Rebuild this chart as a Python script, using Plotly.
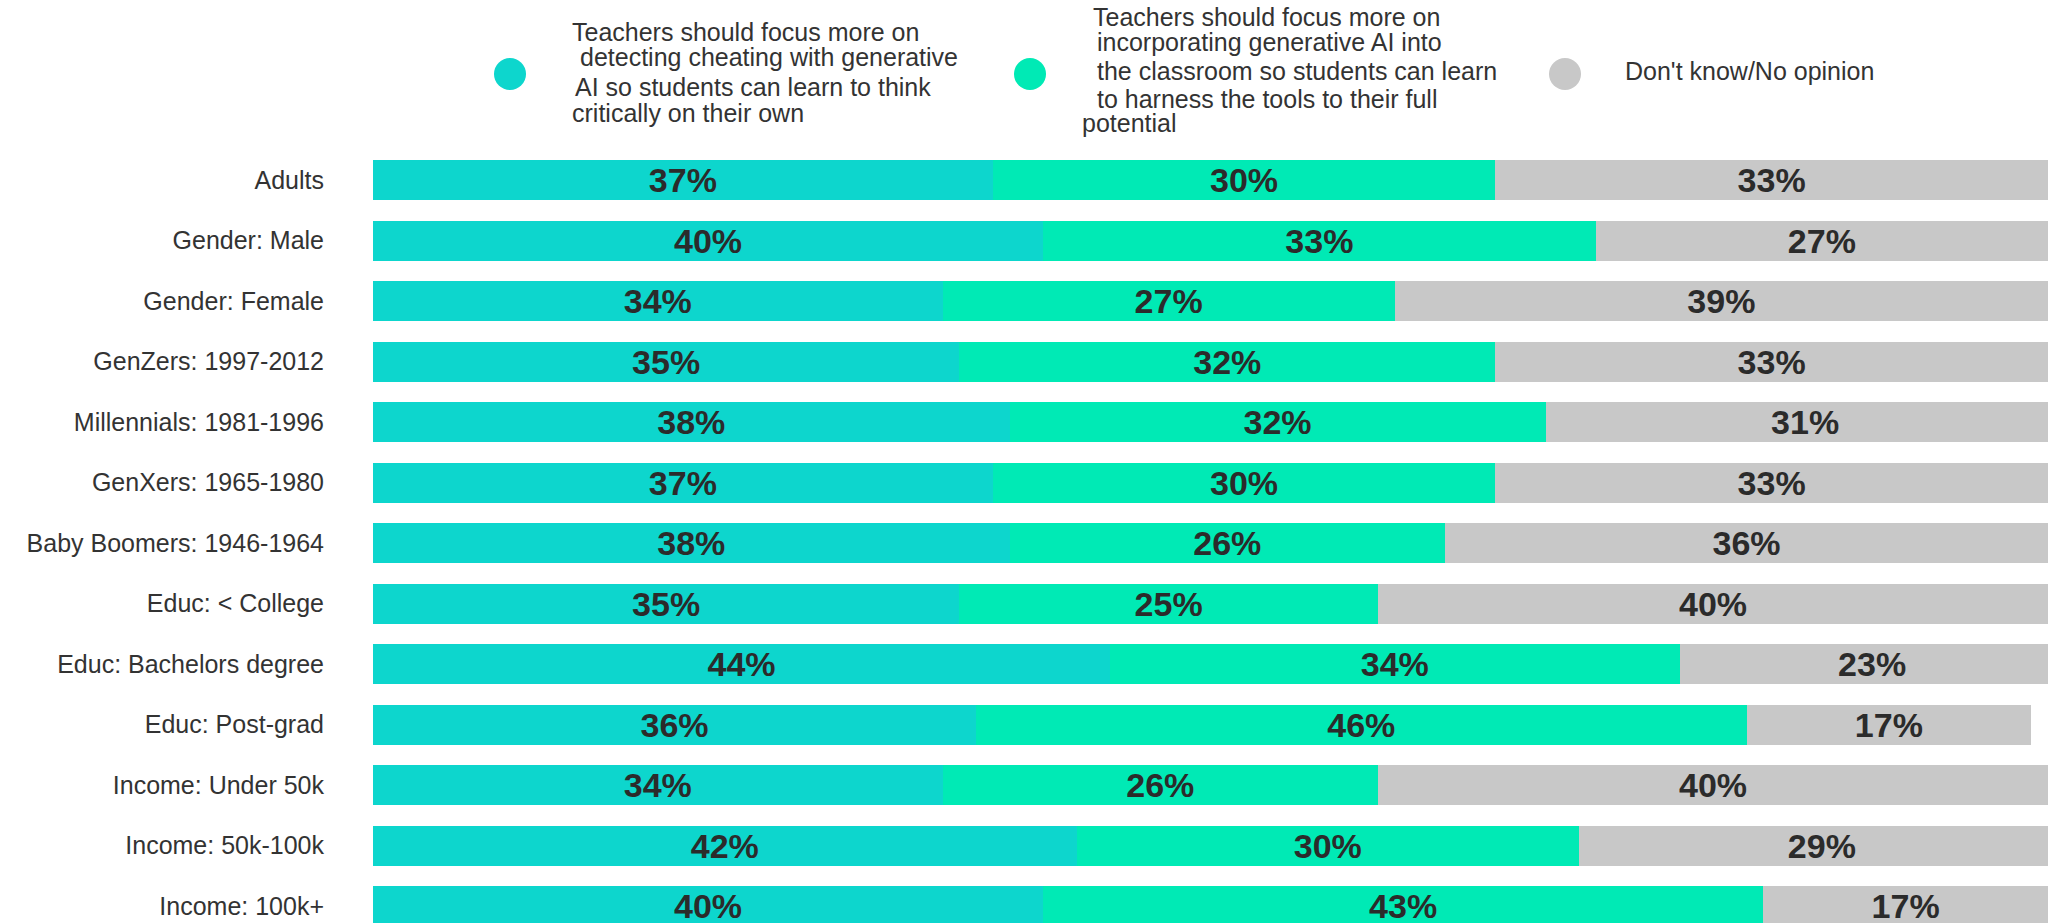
import plotly.graph_objects as go

# Survey groups (top to bottom)
groups = [
    "Adults",
    "Gender: Male",
    "Gender: Female",
    "GenZers: 1997-2012",
    "Millennials: 1981-1996",
    "GenXers: 1965-1980",
    "Baby Boomers: 1946-1964",
    "Educ: < College",
    "Educ: Bachelors degree",
    "Educ: Post-grad",
    "Income: Under 50k",
    "Income: 50k-100k",
    "Income: 100k+",
]

# Share of respondents (%) per answer
detect_cheating = [37, 40, 34, 35, 38, 37, 38, 35, 44, 36, 34, 42, 40]
incorporate_ai = [30, 33, 27, 32, 32, 30, 26, 25, 34, 46, 26, 30, 43]
no_opinion = [33, 27, 39, 33, 31, 33, 36, 40, 23, 17, 40, 29, 17]

# Legend wording, one entry per line as laid out above the bars
legend_detect = [
    "Teachers should focus more on",
    "detecting cheating with generative",
    "AI so students can learn to think",
    "critically on their own",
]
legend_incorporate = [
    "Teachers should focus more on",
    "incorporating generative AI into",
    "the classroom so students can learn",
    "to harness the tools to their full",
    "potential",
]
legend_no_opinion = ["Don't know/No opinion"]

TEAL = "#0DD6CD"
GREEN = "#00EAB5"
GREY = "#C8C8C8"
TEXT = "#333333"
FONT = "Liberation Sans, Arial, sans-serif"

W, H = 2048, 923
M_L, M_T = 373, 150
PLOT_W, PLOT_H = W - M_L, H - M_T


def px_x(x):
    return (x - M_L) / PLOT_W


def px_y(y):
    return (H - y) / PLOT_H


fig = go.Figure()
for vals, color in [(detect_cheating, TEAL), (incorporate_ai, GREEN), (no_opinion, GREY)]:
    fig.add_trace(go.Bar(
        y=groups,
        x=vals,
        orientation="h",
        marker=dict(color=color, line=dict(width=0)),
        texttemplate="%{x}%",
        textposition="inside",
        insidetextanchor="middle",
        constraintext="none",
        textangle=0,
        textfont=dict(family=FONT, size=34, color="#2b2b2b", weight="bold"),
        showlegend=False,
        hoverinfo="skip",
    ))

# Custom legend: circle swatches plus line-by-line captions
annotations = []
shapes = []
legend_items = [
    (TEAL, (510, 74), legend_detect,
     [(572, 32), (580, 57), (575, 87), (572, 113)]),
    (GREEN, (1030, 74), legend_incorporate,
     [(1093, 17.5), (1097, 42.5), (1097, 71), (1097, 98.5), (1082, 123.5)]),
    (GREY, (1565, 74), legend_no_opinion,
     [(1625, 71.5)]),
]
for color, (cx, cy), lines, spots in legend_items:
    shapes.append(dict(
        type="circle", xref="paper", yref="paper",
        xsizemode="pixel", ysizemode="pixel",
        xanchor=px_x(cx), yanchor=px_y(cy),
        x0=-16, x1=16, y0=-16, y1=16,
        fillcolor=color, line=dict(width=0),
    ))
    for line, (lx, ly) in zip(lines, spots):
        annotations.append(dict(
            text=line, xref="paper", yref="paper",
            x=px_x(lx - 2), y=px_y(ly),
            xanchor="left", yanchor="middle",
            showarrow=False,
            font=dict(family=FONT, size=25, color=TEXT),
        ))

fig.update_layout(
    width=W, height=H, autosize=False,
    barmode="stack", bargap=0.339,
    margin=dict(l=M_L, r=0, t=M_T, b=0, pad=0),
    paper_bgcolor="white", plot_bgcolor="white",
    xaxis=dict(range=[0, 100], visible=False, fixedrange=True),
    yaxis=dict(
        categoryorder="array", categoryarray=groups,
        range=[12.281, -0.5],
        showgrid=False, showline=False, zeroline=False, ticks="",
        ticklabelstandoff=48,
        tickfont=dict(family=FONT, size=25, color=TEXT),
        fixedrange=True,
    ),
    shapes=shapes,
    annotations=annotations,
)

fig.write_html("out.html")
